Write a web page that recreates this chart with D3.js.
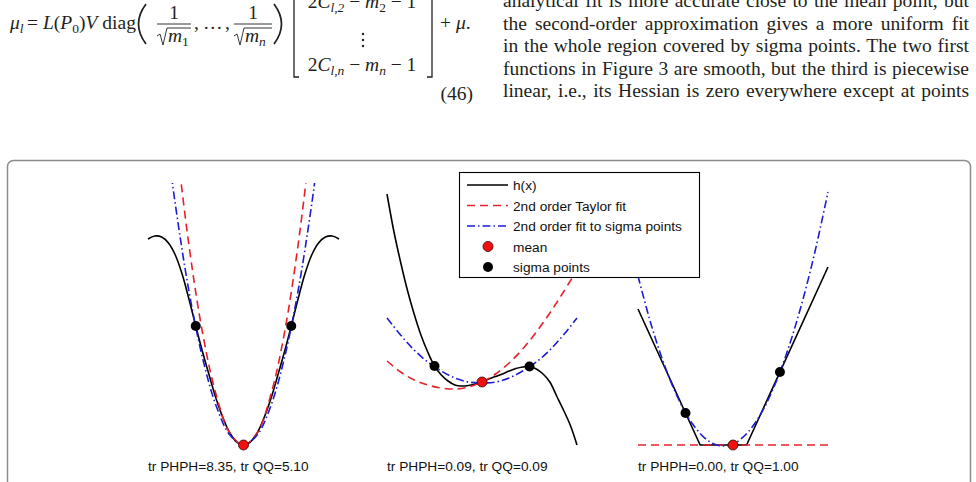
<!DOCTYPE html>
<html>
<head>
<meta charset="utf-8">
<script src="https://cdn.jsdelivr.net/npm/d3@7"></script>
<style>
  body { margin: 0; background: #fff; }
  svg { display: block; }
  .serif { font-family: "Liberation Serif", "DejaVu Serif", serif; fill: #231f20; }
  .sans { font-family: "Liberation Sans", Arial, sans-serif; fill: #111; }
</style>
</head>
<body>
<svg id="canvas" width="976" height="482"></svg>
<script>
// ---------- values ----------
const panelLabels = ["tr PHPH=8.35, tr QQ=5.10", "tr PHPH=0.09, tr QQ=0.09", "tr PHPH=0.00, tr QQ=1.00"];
const legendLabels = ["h(x)", "2nd order Taylor fit", "2nd order fit to sigma points", "mean", "sigma points"];

// panel 1 (smooth, symmetric)
const p1hX = [-3.5,-3.25,-3,-2.75,-2.5,-2.25,-2,-1.75,-1.5,-1.25,-1,-0.75,-0.5,-0.25,0,0.25,0.5,0.75,1,1.25,1.5,1.75,2,2.25,2.5,2.75,3,3.25,3.5];
const p1hY = [2.06,2.09,2.08,2.02,1.90,1.71,1.46,1.19,0.93,0.69,0.46,0.27,0.12,0.03,0,0.03,0.12,0.27,0.46,0.69,0.93,1.19,1.46,1.71,1.90,2.02,2.08,2.09,2.06];
const p1taylorX = [-2.5,-2,-1.5,-1,-0.5,0,0.5,1,1.5,2,2.5];
const p1taylorY = [3.12,2.0,1.12,0.5,0.12,0,0.12,0.5,1.12,2.0,3.12];
const p1fitX = [-3,-2.5,-2,-1.5,-1,-0.5,0,0.5,1,1.5,2,2.5,3];
const p1fitY = [3.46,2.41,1.54,0.87,0.39,0.10,0,0.10,0.39,0.87,1.54,2.41,3.46];
const p1sigmaX = [-1.75, 1.75], p1sigmaY = [1.19, 1.19];
const p1meanX = [0], p1meanY = [0];

// panel 2 (cubic-like)
const p2hX = [-3.5,-3.25,-3,-2.75,-2.5,-2.25,-2,-1.75,-1.5,-1.25,-1,-0.75,-0.5,-0.25,0,0.25,0.5,0.75,1,1.25,1.5,1.75,2,2.25,2.5,2.75,3,3.25,3.5];
const p2hY = [1.88,1.51,1.20,0.92,0.68,0.47,0.30,0.16,0.07,0.01,-0.03,-0.04,-0.035,-0.02,0,0.03,0.055,0.08,0.11,0.135,0.15,0.155,0.13,0.08,0.0,-0.14,-0.28,-0.43,-0.63];
const p2taylorX = [-3.5,-3,-2.5,-2,-1.5,-1,-0.5,0,0.5,1,1.5,2,2.5,3,3.5];
const p2taylorY = [0.21,0.10,0.02,-0.03,-0.06,-0.07,-0.05,0,0.08,0.19,0.33,0.50,0.69,0.90,1.12];
const p2fitX = [-3.5,-3,-2.5,-2,-1.5,-1,-0.5,0,0.5,1,1.5,2,2.5,3,3.5];
const p2fitY = [0.64,0.47,0.32,0.20,0.11,0.04,0.0,-0.01,0.0,0.04,0.11,0.20,0.32,0.47,0.64];
const p2sigmaX = [-1.75, 1.75], p2sigmaY = [0.16, 0.155];
const p2meanX = [0], p2meanY = [0];

// panel 3 (piecewise linear)
const p3hX = [-3.5,-1.21,0.5,3.5];
const p3hY = [1.36,0,0,1.78];
const p3taylorX = [-3.5, 3.5];
const p3taylorY = [0, 0];
const p3fitX = [-3.5,-3,-2.5,-2,-1.5,-1,-0.5,0,0.5,1,1.5,2,2.5,3,3.5];
const p3fitY = [1.69,1.19,0.78,0.455,0.215,0.06,-0.007,0.01,0.113,0.30,0.575,0.935,1.38,1.91,2.53];
const p3sigmaX = [-1.75, 1.73], p3sigmaY = [0.32, 0.73];
const p3meanX = [0], p3meanY = [0];

// paragraph lines at the top right
const paraLines = [
  "analytical fit is more accurate close to the mean point, but",
  "the second-order approximation gives a more uniform fit",
  "in the whole region covered by sigma points. The two first",
  "functions in Figure 3 are smooth, but the third is piecewise",
  "linear, i.e., its Hessian is zero everywhere except at points"
];

const zip = (xs, ys) => xs.map((x, i) => ({x: x, y: ys[i]}));

const panels = [
  {label: panelLabels[0], xRange: [148, 339], yDomain: [0, 2.62], smooth: true,
   h: zip(p1hX, p1hY), taylor: zip(p1taylorX, p1taylorY), fit: zip(p1fitX, p1fitY),
   sigma: zip(p1sigmaX, p1sigmaY), mean: zip(p1meanX, p1meanY)},
  {label: panelLabels[1], xRange: [387, 577], yDomain: [-0.63, 1.99], smooth: true,
   h: zip(p2hX, p2hY), taylor: zip(p2taylorX, p2taylorY), fit: zip(p2fitX, p2fitY),
   sigma: zip(p2sigmaX, p2sigmaY), mean: zip(p2meanX, p2meanY)},
  {label: panelLabels[2], xRange: [638, 828], yDomain: [0, 2.62], smooth: false,
   h: zip(p3hX, p3hY), taylor: zip(p3taylorX, p3taylorY), fit: zip(p3fitX, p3fitY),
   sigma: zip(p3sigmaX, p3sigmaY), mean: zip(p3meanX, p3meanY)}
];

const RED = "#e8202a", BLUE = "#1c1cd6";
const plotTop = 183, plotBottom = 445;

let svg = d3.select("#canvas");

//---------- text above the figure ----------
// paragraph, justified with word spacing
const colLeft = 503, colWidth = 466;
const paraBase = [7, 29.5, 52, 74.5, 97];
paraLines.forEach((s, i) => {
  const t = svg.append("text")
    .attr("class", "serif")
    .attr("x", colLeft)
    .attr("y", paraBase[i])
    .style("font-size", "19.5px")
    .text(s);
  const len = t.node().getComputedTextLength();
  const spaces = s.split(" ").length - 1;
  t.attr("word-spacing", (colWidth - len) / spaces);
});

// equation (46)
const eq = svg.append("g").attr("class", "serif").style("font-size", "19.5px");
function mtext(x, y, parts, anchor) {
  const t = eq.append("text").attr("x", x).attr("y", y).attr("text-anchor", anchor || "start");
  let shift = 0;
  parts.forEach(p => {
    const sub = p[1].indexOf("s") >= 0;
    const want = sub ? 4 : 0;
    t.append("tspan")
      .attr("dy", want - shift)
      .style("font-style", p[1].indexOf("i") >= 0 ? "italic" : "normal")
      .style("font-size", sub ? "13.5px" : null)
      .text(p[0]);
    shift = want;
  });
  return t;
}
const B = 29;
mtext(10, B, [["μ", "i"], ["l", "is"]]);
mtext(27, B, [["=", "r"]]);
mtext(43, B, [["L", "i"], ["(", "r"], ["P", "i"], ["0", "s"], [")", "r"], ["V", "i"], [" diag", "r"]]);

// big parentheses
eq.append("path").attr("d", "M146,4 Q131,24 146,44").attr("fill", "none").attr("stroke", "#231f20").attr("stroke-width", 1.7);
eq.append("path").attr("d", "M274,4 Q289,24 274,44").attr("fill", "none").attr("stroke", "#231f20").attr("stroke-width", 1.7);

// fractions 1/sqrt(m)
function frac(x0, x1, subTxt) {
  mtext((x0 + x1) / 2, 19, [["1", "r"]], "middle");
  eq.append("line").attr("x1", x0).attr("x2", x1).attr("y1", 24).attr("y2", 24)
    .attr("stroke", "#231f20").attr("stroke-width", 0.9);
  eq.append("path")
    .attr("d", `M${x0},36 L${x0 + 3},34 L${x0 + 6},45 L${x0 + 10},28 L${x1},28`)
    .attr("fill", "none").attr("stroke", "#231f20").attr("stroke-width", 0.9);
  mtext(x0 + 11, 42, [["m", "i"], [subTxt, subTxt === "n" ? "is" : "s"]]);
}
frac(157, 191, "1");
mtext(194, B, [[",", "r"]]);
mtext(203, B, [["…", "r"]]);
mtext(225, B, [[",", "r"]]);
frac(234, 272, "n");

// matrix brackets and rows
eq.append("path").attr("d", "M299,-5 L294,-5 L294,77 L299,77").attr("fill", "none").attr("stroke", "#231f20").attr("stroke-width", 1.3);
eq.append("path").attr("d", "M427,-5 L432,-5 L432,77 L427,77").attr("fill", "none").attr("stroke", "#231f20").attr("stroke-width", 1.3);
mtext(362, 8, [["2", "r"], ["C", "i"], ["l,2", "is"], [" − ", "r"], ["m", "i"], ["2", "s"], [" − 1", "r"]], "middle");
mtext(362, 71, [["2", "r"], ["C", "i"], ["l,n", "is"], [" − ", "r"], ["m", "i"], ["n", "is"], [" − 1", "r"]], "middle");
eq.selectAll("circle.vd").data([34, 40, 46]).join("circle")
  .attr("class", "vd").attr("cx", 363).attr("cy", d => d).attr("r", 1.2).attr("fill", "#231f20");
mtext(440, B, [["+ ", "r"], ["μ", "i"], [".", "r"]]);
mtext(473, 100, [["(46)", "r"]], "end");

//---------- the figure ----------
svg.append("rect")
  .attr("x", 7.5).attr("y", 160.5)
  .attr("width", 963).attr("height", 400)
  .attr("rx", 6)
  .attr("fill", "none")
  .attr("stroke", "#8c8c8c")
  .attr("stroke-width", 1.5);

const defs = svg.append("defs");

panels.forEach((p, k) => {
  const x = d3.scaleLinear().domain([-3.5, 3.5]).range(p.xRange);
  const y = d3.scaleLinear().domain(p.yDomain).range([plotBottom, plotTop]);

  // clip the fits at the top of the axes
  defs.append("clipPath").attr("id", "clip" + k)
    .append("rect")
    .attr("x", p.xRange[0] - 3).attr("y", plotTop)
    .attr("width", p.xRange[1] - p.xRange[0] + 6).attr("height", 20 + plotBottom - plotTop);

  const g = svg.append("g");
  const lines = g.append("g").attr("clip-path", `url(#clip${k})`);

  const smooth = d3.line().x(d => x(d.x)).y(d => y(d.y)).curve(d3.curveCatmullRom.alpha(0.5));
  const straight = d3.line().x(d => x(d.x)).y(d => y(d.y));

  lines.append("path")
    .attr("d", (p.smooth ? smooth : straight)(p.h))
    .attr("fill", "none").attr("stroke", "#000").attr("stroke-width", 1.6);

  lines.append("path")
    .attr("d", smooth(p.taylor))
    .attr("fill", "none").attr("stroke", RED).attr("stroke-width", 1.6)
    .attr("stroke-dasharray", "8,5");

  lines.append("path")
    .attr("d", smooth(p.fit))
    .attr("fill", "none").attr("stroke", BLUE).attr("stroke-width", 1.6)
    .attr("stroke-dasharray", "8,3,1.5,3");

  g.selectAll("circle.sigma").data(p.sigma).join("circle")
    .attr("class", "sigma")
    .attr("cx", d => x(d.x)).attr("cy", d => y(d.y))
    .attr("r", 5).attr("fill", "#000");

  g.selectAll("circle.mean").data(p.mean).join("circle")
    .attr("class", "mean")
    .attr("cx", d => x(d.x)).attr("cy", d => y(d.y))
    .attr("r", 5).attr("fill", "#f01010").attr("stroke", "#300").attr("stroke-width", 0.8);

  g.append("text")
    .attr("class", "sans")
    .attr("x", p.xRange[0])
    .attr("y", 471)
    .style("font-size", "13.7px")
    .text(p.label);
});

//---------- legend ----------
const lg = svg.append("g");
lg.append("rect")
  .attr("x", 459.5).attr("y", 172.5)
  .attr("width", 240).attr("height", 105)
  .attr("fill", "#fff").attr("stroke", "#000").attr("stroke-width", 1.1);

const rowY = d3.scalePoint().domain(legendLabels).range([185, 267]);
const styles = [
  {stroke: "#000", dash: null},
  {stroke: RED, dash: "8,5"},
  {stroke: BLUE, dash: "8,3,1.5,3"}
];
legendLabels.forEach((lab, i) => {
  const cy = rowY(lab);
  if (i < 3) {
    lg.append("line")
      .attr("x1", 467).attr("x2", 508).attr("y1", cy).attr("y2", cy)
      .attr("stroke", styles[i].stroke).attr("stroke-width", 1.4)
      .attr("stroke-dasharray", styles[i].dash);
  } else {
    lg.append("circle")
      .attr("cx", 488).attr("cy", cy).attr("r", 5)
      .attr("fill", i === 3 ? "#f01010" : "#000")
      .attr("stroke", i === 3 ? "#300" : "none").attr("stroke-width", 0.8);
  }
  lg.append("text")
    .attr("class", "sans")
    .attr("x", 513).attr("y", cy + 5)
    .style("font-size", "13.7px")
    .text(lab);
});
</script>
</body>
</html>
